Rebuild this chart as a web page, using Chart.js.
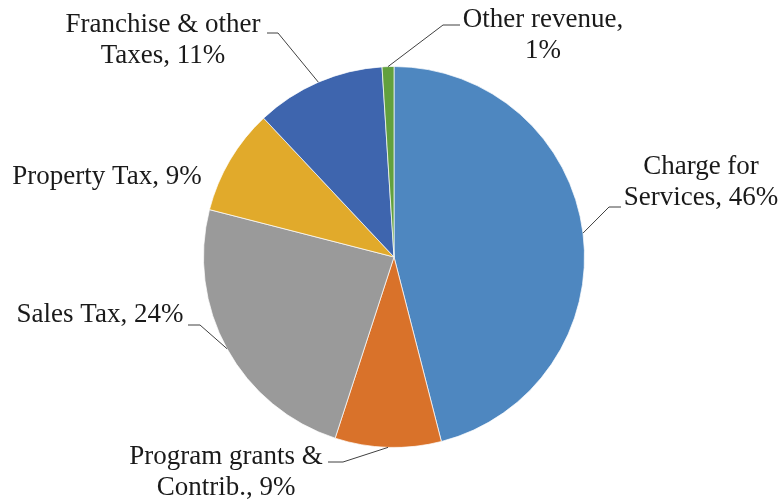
<!DOCTYPE html>
<html>
<head>
<meta charset="utf-8">
<script src="https://cdn.jsdelivr.net/npm/chart.js@4.4.1/dist/chart.umd.min.js"></script>
<style>
  html, body { margin: 0; padding: 0; background: #fff; }
  #wrap { width: 781px; height: 502px; }
</style>
</head>
<body>
<div id="wrap"><canvas id="revenueChart" width="781" height="502"></canvas></div>
<script>
const categories = ["Charge for Services", "Program grants & Contrib.", "Sales Tax", "Property Tax", "Franchise & other Taxes", "Other revenue"];
const shares = [46, 9, 24, 9, 11, 1];
const sliceColors = ["#4e87c0", "#d9722a", "#9a9a9a", "#e1aa2b", "#3e65ae", "#62a03e"];

// where each label sits (text centre, first line) and its leader tick
const labelLayout = [
  { x: 701, y: 167, wrap: 165, tick: [[621, 207], [609, 207]] },
  { x: 226, y: 457, wrap: 210, tick: [[328, 462], [343, 462]] },
  { x: 100, y: 315, wrap: 400, tick: [[188, 325], [200, 325]] },
  { x: 107, y: 177, wrap: 400, tick: null },
  { x: 163, y: 25, wrap: 210, tick: [[267, 33], [278, 33]] },
  { x: 543, y: 20, wrap: 175, tick: [[460, 25], [443, 25]] },
];

const labelFont = "27px 'Liberation Serif', 'Times New Roman', serif";
const lineGap = 31;

function wrapText(ctx, text, maxWidth) {
  const words = text.split(" ");
  const lines = [];
  let cur = "";
  words.forEach(w => {
    const test = cur ? cur + " " + w : w;
    if (cur && ctx.measureText(test).width > maxWidth) {
      lines.push(cur);
      cur = w;
    } else {
      cur = test;
    }
  });
  if (cur) lines.push(cur);
  return lines;
}

const leaderLabels = {
  id: "leaderLabels",
  afterDatasetsDraw(chart) {
    const ctx = chart.ctx;
    const meta = chart.getDatasetMeta(0);
    ctx.save();
    ctx.font = labelFont;
    ctx.fillStyle = "#1a1a1a";
    ctx.textAlign = "center";
    ctx.textBaseline = "middle";
    meta.data.forEach((arc, i) => {
      const lay = labelLayout[i];
      const text = categories[i] + ", " + shares[i] + "%";
      const lines = wrapText(ctx, text, lay.wrap);
      lines.forEach((ln, k) => ctx.fillText(ln, lay.x, lay.y + k * lineGap));

      if (lay.tick) {
        const p = arc.getProps(["x", "y", "startAngle", "endAngle", "outerRadius"], true);
        const mid = (p.startAngle + p.endAngle) / 2;
        const ex = p.x + Math.cos(mid) * p.outerRadius;
        const ey = p.y + Math.sin(mid) * p.outerRadius;
        ctx.beginPath();
        ctx.strokeStyle = "#404040";
        ctx.lineWidth = 1;
        ctx.moveTo(lay.tick[0][0], lay.tick[0][1]);
        ctx.lineTo(lay.tick[1][0], lay.tick[1][1]);
        ctx.lineTo(ex, ey);
        ctx.stroke();
      }
    });
    ctx.restore();
  }
};

new Chart(document.getElementById("revenueChart"), {
  type: "pie",
  data: {
    labels: categories,
    datasets: [
      {
        data: shares,
        backgroundColor: sliceColors,
        borderColor: "rgba(255,255,255,0.7)",
        borderWidth: 1,
      },
    ],
  },
  options: {
    responsive: false,
    animation: false,
    layout: {
      padding: { left: 10, right: 3, top: 66, bottom: 54 },
    },
    plugins: {
      legend: { display: false },
      tooltip: { enabled: false },
    },
  },
  plugins: [leaderLabels],
});
</script>
</body>
</html>
